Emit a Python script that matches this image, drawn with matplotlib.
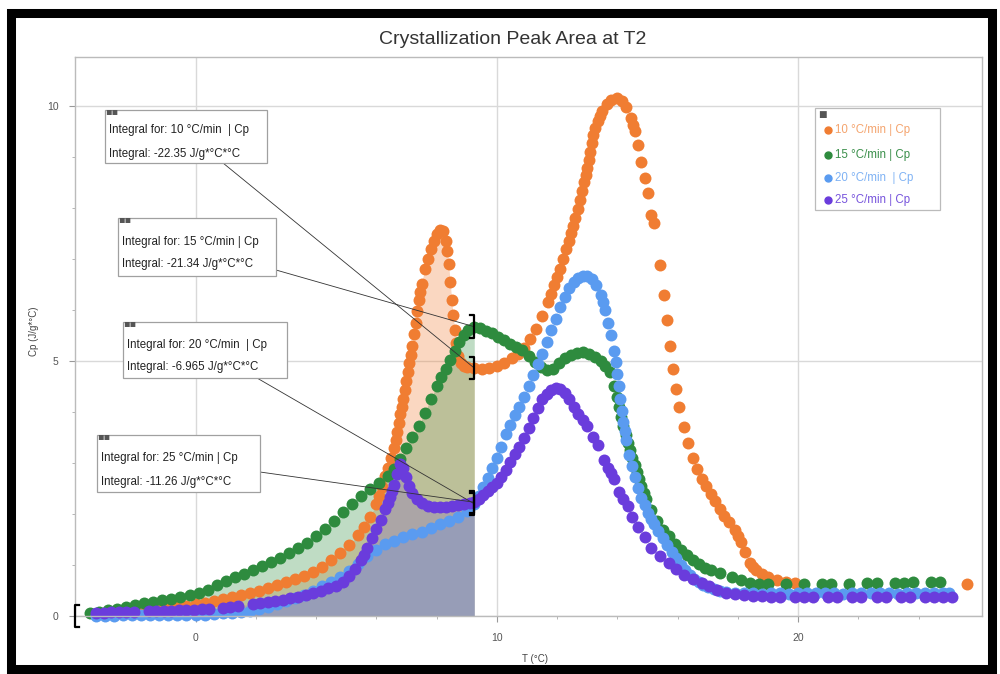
import numpy as np
import matplotlib.pyplot as plt
from matplotlib.lines import Line2D
from matplotlib.patches import Rectangle

plt.rcParams['font.family'] = ['Liberation Sans', 'DejaVu Sans']

# (T, Cp) points
p10 = [(-3.3, 0.03), (-3.0, 0.04), (-2.7, 0.05), (-2.4, 0.06), (-2.1, 0.07), (-1.8, 0.08), (-1.5, 0.1),
       (-1.2, 0.12), (-0.9, 0.14), (-0.6, 0.17), (-0.3, 0.2), (0.0, 0.23), (0.3, 0.26), (0.6, 0.3),
       (0.9, 0.33), (1.2, 0.37), (1.5, 0.41), (1.8, 0.45), (2.1, 0.5), (2.4, 0.55), (2.7, 0.6),
       (3.0, 0.66), (3.3, 0.72), (3.6, 0.79), (3.9, 0.87), (4.2, 0.97), (4.5, 1.1), (4.8, 1.24),
       (5.1, 1.4), (5.4, 1.58), (5.6, 1.75), (5.8, 1.95), (6.0, 2.2), (6.1, 2.35), (6.2, 2.52),
       (6.3, 2.75), (6.4, 2.9), (6.5, 3.1), (6.6, 3.3), (6.65, 3.45), (6.7, 3.6), (6.75, 3.78),
       (6.8, 3.95), (6.85, 4.1), (6.9, 4.25), (6.95, 4.42), (7.0, 4.6), (7.05, 4.78), (7.1, 4.95),
       (7.15, 5.12), (7.2, 5.3), (7.25, 5.52), (7.3, 5.75), (7.35, 5.98), (7.4, 6.2), (7.45, 6.35),
       (7.5, 6.5), (7.6, 6.8), (7.7, 7.0), (7.8, 7.2), (7.9, 7.35), (8.0, 7.48), (8.1, 7.56),
       (8.2, 7.55), (8.3, 7.35), (8.35, 7.15), (8.4, 6.9), (8.45, 6.55), (8.5, 6.2), (8.55, 5.9),
       (8.6, 5.6), (8.65, 5.35), (8.7, 5.1), (8.8, 4.95), (8.9, 4.9), (9.0, 4.88), (9.25, 4.86),
       (9.5, 4.85), (9.75, 4.86), (10.0, 4.9), (10.25, 4.96), (10.5, 5.05), (10.7, 5.14), (10.9, 5.25),
       (11.1, 5.42), (11.3, 5.62), (11.5, 5.88), (11.7, 6.16), (11.8, 6.32), (11.9, 6.48), (12.0, 6.64),
       (12.1, 6.81), (12.2, 7.0), (12.3, 7.2), (12.38, 7.35), (12.45, 7.5), (12.52, 7.65), (12.6, 7.8),
       (12.68, 7.97), (12.75, 8.15), (12.82, 8.32), (12.9, 8.5), (12.95, 8.64), (13.0, 8.78),
       (13.05, 8.94), (13.1, 9.1), (13.15, 9.27), (13.2, 9.43), (13.27, 9.57), (13.35, 9.7),
       (13.42, 9.8), (13.5, 9.9), (13.65, 10.03), (13.8, 10.12), (14.0, 10.16), (14.15, 10.1),
       (14.3, 9.97), (14.45, 9.76), (14.52, 9.63), (14.6, 9.5), (14.7, 9.23), (14.8, 8.9), (14.9, 8.58),
       (15.0, 8.29), (15.1, 7.85), (15.2, 7.7), (15.4, 6.87), (15.55, 6.3), (15.65, 5.8), (15.75, 5.3),
       (15.85, 4.85), (15.95, 4.45), (16.05, 4.1), (16.2, 3.7), (16.35, 3.4), (16.5, 3.1), (16.65, 2.88),
       (16.8, 2.68), (16.95, 2.54), (17.1, 2.4), (17.25, 2.25), (17.4, 2.1), (17.55, 1.97), (17.7, 1.85),
       (17.9, 1.69), (18.0, 1.57), (18.1, 1.45), (18.25, 1.25), (18.4, 1.04), (18.5, 0.96), (18.6, 0.9),
       (18.8, 0.82), (19.0, 0.77), (19.3, 0.7), (19.6, 0.66), (19.9, 0.64), (25.6, 0.63)]

p15 = [(-3.5, 0.05), (-3.2, 0.08), (-2.9, 0.11), (-2.6, 0.14), (-2.3, 0.18), (-2.0, 0.21), (-1.7, 0.25),
       (-1.4, 0.28), (-1.1, 0.31), (-0.8, 0.34), (-0.5, 0.37), (-0.2, 0.41), (0.1, 0.46), (0.4, 0.52),
       (0.7, 0.6), (1.0, 0.68), (1.3, 0.76), (1.6, 0.82), (1.9, 0.9), (2.2, 0.98), (2.5, 1.06), (2.8, 1.14),
       (3.1, 1.23), (3.4, 1.33), (3.7, 1.44), (4.0, 1.57), (4.3, 1.7), (4.6, 1.86), (4.9, 2.03), (5.2, 2.2),
       (5.5, 2.35), (5.8, 2.48), (6.1, 2.6), (6.4, 2.75), (6.6, 2.88), (6.8, 3.07), (7.0, 3.3), (7.2, 3.5),
       (7.4, 3.72), (7.6, 3.98), (7.8, 4.25), (8.0, 4.5), (8.15, 4.68), (8.3, 4.84), (8.45, 5.02),
       (8.6, 5.2), (8.75, 5.38), (8.9, 5.5), (9.05, 5.6), (9.25, 5.67), (9.45, 5.64), (9.65, 5.59),
       (9.85, 5.54), (10.05, 5.47), (10.25, 5.4), (10.45, 5.34), (10.65, 5.28), (10.85, 5.22),
       (11.05, 5.1), (11.25, 4.98), (11.45, 4.88), (11.65, 4.82), (11.85, 4.85), (12.05, 4.95),
       (12.25, 5.05), (12.45, 5.12), (12.65, 5.16), (12.85, 5.17), (13.05, 5.14), (13.25, 5.08),
       (13.45, 5.0), (13.6, 4.9), (13.75, 4.78), (13.9, 4.5), (13.98, 4.3), (14.05, 4.1), (14.12, 3.9),
       (14.2, 3.72), (14.28, 3.55), (14.35, 3.4), (14.42, 3.25), (14.5, 3.1), (14.58, 2.96), (14.65, 2.82),
       (14.72, 2.68), (14.8, 2.55), (14.88, 2.42), (14.95, 2.3), (15.1, 2.08), (15.3, 1.86), (15.5, 1.68),
       (15.7, 1.56), (15.9, 1.42), (16.1, 1.3), (16.3, 1.2), (16.5, 1.1), (16.7, 1.02), (16.9, 0.95),
       (17.1, 0.9), (17.4, 0.84), (17.8, 0.77), (18.1, 0.7), (18.4, 0.65), (18.7, 0.63), (19.0, 0.62),
       (19.6, 0.62), (20.2, 0.62), (20.8, 0.62), (21.1, 0.63), (21.7, 0.63), (22.3, 0.64), (22.6, 0.64),
       (23.2, 0.65), (23.5, 0.65), (23.8, 0.66), (24.4, 0.67), (24.7, 0.67)]

p20 = [(-3.3, 0.01), (-3.0, 0.01), (-2.7, 0.01), (-2.4, 0.02), (-2.1, 0.02), (-1.8, 0.02), (-1.5, 0.02),
       (-1.2, 0.02), (-0.9, 0.03), (-0.6, 0.03), (-0.3, 0.03), (0.0, 0.03), (0.3, 0.03), (0.6, 0.04),
       (0.9, 0.05), (1.2, 0.06), (1.5, 0.07), (1.8, 0.09), (2.1, 0.13), (2.4, 0.18), (2.7, 0.23),
       (3.0, 0.29), (3.3, 0.35), (3.6, 0.42), (3.9, 0.5), (4.2, 0.58), (4.5, 0.67), (4.8, 0.77),
       (5.1, 0.88), (5.4, 1.02), (5.7, 1.17), (6.0, 1.3), (6.3, 1.41), (6.6, 1.48), (6.9, 1.54),
       (7.2, 1.6), (7.5, 1.65), (7.8, 1.72), (8.1, 1.8), (8.4, 1.87), (8.7, 1.95), (9.0, 2.05),
       (9.25, 2.2), (9.4, 2.35), (9.55, 2.52), (9.7, 2.7), (9.85, 2.9), (10.0, 3.1), (10.15, 3.32),
       (10.3, 3.56), (10.45, 3.75), (10.6, 3.93), (10.75, 4.1), (10.9, 4.3), (11.05, 4.5), (11.2, 4.72),
       (11.35, 4.93), (11.5, 5.14), (11.65, 5.37), (11.8, 5.6), (11.95, 5.83), (12.1, 6.05),
       (12.25, 6.25), (12.4, 6.42), (12.55, 6.55), (12.7, 6.63), (12.85, 6.67), (13.0, 6.67),
       (13.15, 6.6), (13.3, 6.48), (13.45, 6.3), (13.52, 6.15), (13.6, 6.0), (13.7, 5.75), (13.8, 5.5),
       (13.9, 5.2), (13.95, 4.98), (14.0, 4.75), (14.05, 4.5), (14.1, 4.25), (14.15, 4.02), (14.2, 3.8),
       (14.25, 3.62), (14.3, 3.45), (14.4, 3.15), (14.5, 2.95), (14.6, 2.72), (14.7, 2.5), (14.8, 2.32),
       (14.9, 2.17), (15.0, 2.02), (15.1, 1.9), (15.2, 1.8), (15.35, 1.66), (15.5, 1.53), (15.65, 1.4),
       (15.8, 1.26), (15.95, 1.13), (16.1, 1.0), (16.25, 0.9), (16.4, 0.8), (16.55, 0.72), (16.7, 0.66),
       (16.85, 0.61), (17.0, 0.57), (17.2, 0.53), (17.4, 0.5), (17.6, 0.48), (17.9, 0.46), (18.2, 0.45),
       (18.5, 0.45), (18.8, 0.44), (19.1, 0.45), (19.4, 0.45), (19.7, 0.44), (20.0, 0.45), (20.3, 0.45),
       (20.6, 0.46), (20.9, 0.45), (21.2, 0.45), (21.5, 0.44), (21.8, 0.45), (22.1, 0.45), (22.4, 0.46),
       (22.7, 0.45), (23.0, 0.45), (23.3, 0.44), (23.6, 0.45), (23.9, 0.45), (24.2, 0.46), (24.5, 0.45),
       (24.8, 0.45), (25.0, 0.45)]

p25 = [(-3.3, 0.06), (-3.05, 0.06), (-2.8, 0.07), (-2.55, 0.07), (-2.3, 0.08), (-2.05, 0.08),
       (-1.55, 0.09), (-1.3, 0.09), (-1.05, 0.1), (-0.8, 0.1), (-0.55, 0.11), (-0.3, 0.11), (-0.05, 0.12),
       (0.2, 0.13), (0.45, 0.14), (0.9, 0.16), (1.15, 0.18), (1.4, 0.2), (1.9, 0.23), (2.15, 0.25),
       (2.4, 0.27), (2.65, 0.3), (2.9, 0.32), (3.15, 0.35), (3.4, 0.38), (3.65, 0.42), (3.9, 0.46),
       (4.15, 0.5), (4.4, 0.54), (4.65, 0.59), (4.9, 0.67), (5.1, 0.78), (5.3, 0.93), (5.5, 1.1),
       (5.6, 1.2), (5.7, 1.33), (5.85, 1.52), (6.0, 1.7), (6.15, 1.89), (6.3, 2.1), (6.38, 2.22),
       (6.45, 2.33), (6.52, 2.45), (6.6, 2.56), (6.7, 2.78), (6.8, 2.98), (6.9, 2.9), (7.0, 2.72),
       (7.1, 2.55), (7.2, 2.42), (7.35, 2.3), (7.5, 2.22), (7.7, 2.16), (7.9, 2.14), (8.1, 2.13),
       (8.3, 2.14), (8.5, 2.15), (8.7, 2.17), (8.9, 2.19), (9.1, 2.21), (9.25, 2.23), (9.4, 2.3),
       (9.55, 2.38), (9.7, 2.45), (9.85, 2.52), (10.0, 2.6), (10.15, 2.72), (10.3, 2.87), (10.45, 3.02),
       (10.6, 3.17), (10.75, 3.32), (10.9, 3.48), (11.05, 3.68), (11.2, 3.88), (11.35, 4.08), (11.5, 4.25),
       (11.65, 4.35), (11.8, 4.43), (11.95, 4.46), (12.1, 4.45), (12.25, 4.38), (12.4, 4.25), (12.55, 4.1),
       (12.7, 3.95), (12.85, 3.84), (13.0, 3.72), (13.2, 3.5), (13.35, 3.35), (13.55, 3.05), (13.7, 2.9),
       (13.8, 2.8), (13.9, 2.68), (14.05, 2.44), (14.2, 2.3), (14.35, 2.15), (14.5, 1.95), (14.7, 1.75),
       (14.9, 1.55), (15.1, 1.33), (15.4, 1.17), (15.7, 1.04), (15.95, 0.92), (16.2, 0.8), (16.5, 0.72),
       (16.8, 0.65), (17.05, 0.58), (17.3, 0.51), (17.6, 0.46), (17.9, 0.43), (18.2, 0.41), (18.5, 0.4),
       (18.8, 0.39), (19.1, 0.38), (19.4, 0.38), (19.9, 0.38), (20.2, 0.38), (20.5, 0.38), (21.0, 0.38),
       (21.3, 0.38), (21.8, 0.38), (22.1, 0.38), (22.6, 0.38), (22.9, 0.38), (23.4, 0.38), (23.7, 0.38),
       (24.2, 0.38), (24.5, 0.38), (24.8, 0.38), (25.1, 0.38)]

labels = ['10 °C/min | Cp', '15 °C/min | Cp', '20 °C/min  | Cp', '25 °C/min | Cp']
colors = ['#F07D32', '#2E8B3E', '#5A9BF0', '#6A3CDC']
label_colors = ['#F4A46E', '#3A8F4A', '#7FB2F4', '#7653DC']
fill_alpha = [0.3, 0.3, 0.25, 0.2]
integral_names = ['10 °C/min  | Cp', '15 °C/min | Cp', '20 °C/min  | Cp', '25 °C/min | Cp']
integral_values = ['-22.35', '-21.34', '-6.965', '-11.26']
x_start = -4.0
x_end = 9.25

series = [np.array(sorted(p)) for p in (p10, p15, p20, p25)]

fig = plt.figure(figsize=(10, 6.74), dpi=100)
ax = fig.add_axes([0.075, 0.086, 0.907, 0.829])

def fp(x, y):
    # pixel position -> figure fraction
    return (x / 1000, 1 - y / 674)

# integral areas
for d, c, a in zip(series, colors, fill_alpha):
    m = d[:, 0] <= x_end
    ax.fill_between(d[m, 0], 0, d[m, 1], color=c, alpha=a, lw=0, zorder=1)

for d, c in zip(series, colors):
    ax.scatter(d[:, 0], d[:, 1], s=74, color=c, lw=0, zorder=2, clip_on=False)

# integral limit brackets
def bracket(x, y, side):
    h, w = 0.22, 0.13
    ax.plot([x - side * w, x, x, x - side * w], [y - h, y - h, y + h, y + h],
            color='black', lw=1.6, zorder=5, clip_on=False)

bracket(x_start, 0, -1)
end_vals = []
for d in series:
    yv = d[d[:, 0] == x_end, 1][0]
    end_vals.append(yv)
    bracket(x_end, yv, 1)

# annotation boxes: (left, top, right, bottom) in pixels, text rows, leader start
boxes = [(105, 110, 267, 163), (118, 218, 276, 276), (123, 322, 287, 378), (97, 435, 260, 492)]
rows = [(130, 154), (242, 264), (345, 367), (458, 482)]
leaders = [(223, 163), (276, 270), (257, 378), (260, 472)]
for i in range(4):
    l, t, r, b = boxes[i]
    x0, y0 = fp(l, b)
    x1, y1 = fp(r, t)
    fig.patches.append(Rectangle((x0, y0), x1 - x0, y1 - y0, transform=fig.transFigure,
                                 fc='white', ec='#a0a0a0', lw=0.9, zorder=3))
    ax.annotate('', xy=(x_end, end_vals[i]), xycoords='data',
                xytext=fp(*leaders[i]), textcoords='figure fraction',
                arrowprops=dict(arrowstyle='-', color='#333333', lw=0.6, shrinkA=0, shrinkB=0))
    fig.text(*fp(l + 4, rows[i][0]), 'Integral for: ' + integral_names[i], fontsize=8.3,
             color='#222222', ha='left', va='center', zorder=4)
    fig.text(*fp(l + 4, rows[i][1]), 'Integral: ' + integral_values[i] + ' J/g*°C*°C', fontsize=8.3,
             color='#222222', ha='left', va='center', zorder=4)
    fig.text(*fp(l, t + 1), '▪▪', fontsize=7, color='#555555',
             family='DejaVu Sans', ha='left', va='center', zorder=5)

# legend box
x0, y0 = fp(815, 210)
x1, y1 = fp(940, 108)
fig.patches.append(Rectangle((x0, y0), x1 - x0, y1 - y0, transform=fig.transFigure,
                             fc='white', ec='#bbbbbb', lw=0.9, zorder=3))
fig.text(*fp(822, 114), '■', fontsize=6.5, color='#555555', family='DejaVu Sans',
         ha='center', va='center', zorder=4)
for i, yy in enumerate([130, 155, 178, 200]):
    fig.add_artist(Line2D([828 / 1000], [1 - yy / 674], marker='o', ls='', color=colors[i],
                          markersize=5, transform=fig.transFigure, zorder=4))
    fig.text(*fp(835, yy), labels[i], fontsize=8.3, color=label_colors[i],
             ha='left', va='center', zorder=4)

ax.set_xlim(-4, 26.1)
ax.set_ylim(0, 10.95)
ax.set_xticks([0, 10, 20])
ax.set_yticks([0, 5, 10])
ax.set_xticks(np.arange(-2, 26, 2), minor=True)
ax.set_yticks(np.arange(0, 11, 1), minor=True)
ax.grid(True, which='major', color='#d9d9d9', lw=1, zorder=0)
ax.set_axisbelow(True)
ax.tick_params(which='major', length=4, color='#999999', labelsize=7.5, labelcolor='#555555', pad=8)
ax.tick_params(which='minor', length=2, color='#aaaaaa')
for s in ax.spines.values():
    s.set_color('#bbbbbb')
    s.set_linewidth(1)

fig.text(*fp(513, 40), 'Crystallization Peak Area at T2', fontsize=14, color='#333333',
         ha='center', va='center')
ax.set_xlabel('T (°C)', fontsize=7, color='#444444')
ax.xaxis.set_label_coords(0.507, -0.068)
ax.set_ylabel('Cp (J/g*°C)', fontsize=7, color='#444444')
ax.yaxis.set_label_coords(-0.04, 0.51)

# black frame round the picture
fig.patches.append(Rectangle((0.0105, 0.0074), 0.9815, 0.9733, transform=fig.transFigure,
                             fill=False, ec='black', lw=6.5, zorder=6))

fig.savefig('out.png', dpi=100)
